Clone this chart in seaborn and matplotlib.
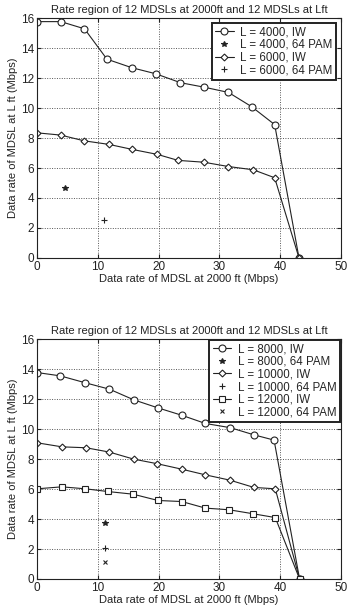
import matplotlib
matplotlib.use("Agg")
from matplotlib import pyplot as plt
import seaborn as sns
import pandas as pd
import numpy as np

# top panel: L = 4000 / 6000
x4000 = [0, 3.9, 7.8, 11.5, 15.6, 19.5, 23.6, 27.5, 31.5, 35.3, 39.1, 43.1]
y4000 = [15.78, 15.78, 15.3, 13.27, 12.7, 12.3, 11.7, 11.4, 11.05, 10.1, 8.9, 0]
x6000 = [0, 3.9, 7.7, 11.8, 15.7, 19.8, 23.2, 27.4, 31.5, 35.6, 39.1, 43.1]
y6000 = [8.35, 8.2, 7.82, 7.58, 7.24, 6.91, 6.51, 6.39, 6.1, 5.88, 5.35, 0]
pam4000 = (4.66, 4.68)
pam6000 = (11.07, 2.5)

# bottom panel: L = 8000 / 10000 / 12000
x8000 = [0, 3.8, 7.9, 11.9, 15.9, 19.9, 23.8, 27.7, 31.8, 35.7, 39.0, 43.2]
y8000 = [13.78, 13.56, 13.1, 12.67, 11.96, 11.42, 10.93, 10.38, 10.1, 9.62, 9.27, 0]
x10000 = [0, 4.1, 8.05, 11.9, 15.9, 19.7, 23.8, 27.7, 31.7, 35.7, 39.2, 43.2]
y10000 = [9.09, 8.82, 8.76, 8.47, 8.0, 7.7, 7.33, 6.95, 6.6, 6.11, 6.02, 0]
x12000 = [0, 4.05, 7.95, 11.6, 15.8, 19.9, 23.8, 27.7, 31.6, 35.6, 39.2, 43.2]
y12000 = [6.02, 6.15, 6.02, 5.84, 5.66, 5.24, 5.17, 4.73, 4.62, 4.35, 4.1, 0]
pam8000 = (11.2, 3.71)
pam10000 = (11.2, 2.1)
pam12000 = (11.2, 1.13)

title = "Rate region of 12 MDSLs at 2000ft and 12 MDSLs at Lft"
xlab = "Data rate of MDSL at 2000 ft (Mbps)"
ylab = "Data rate of MDSL at L ft (Mbps)"

sns.set_style("ticks")
plt.rcParams['font.family'] = ['Liberation Sans', 'DejaVu Sans']
plt.rcParams['font.size'] = 8
ink = '#222222'

fig = plt.figure(figsize=(3.5, 6.11), dpi=100)
ax1 = fig.add_axes([0.106, 0.578, 0.868, 0.392])
ax2 = fig.add_axes([0.106, 0.0524, 0.868, 0.3923])


def iw(ax, xs, ys, mk, ms, lab):
    d = pd.DataFrame({"x": xs, "y": ys})
    sns.lineplot(data=d, x="x", y="y", ax=ax, sort=False, color=ink, lw=0.8,
                 marker=mk, markersize=ms, markerfacecolor='white',
                 markeredgecolor=ink, markeredgewidth=0.8, label=lab)


def pam(ax, pt, mk, ms, lab):
    ax.plot([pt[0]], [pt[1]], linestyle='none', marker=mk, markersize=ms,
            color=ink, markeredgewidth=0.8, label=lab)


iw(ax1, x4000, y4000, 'o', 5, "L = 4000, IW")
pam(ax1, pam4000, '*', 4, "L = 4000, 64 PAM")
iw(ax1, x6000, y6000, 'D', 3.5, "L = 6000, IW")
pam(ax1, pam6000, '+', 5, "L = 6000, 64 PAM")

iw(ax2, x8000, y8000, 'o', 5, "L = 8000, IW")
pam(ax2, pam8000, '*', 4, "L = 8000, 64 PAM")
iw(ax2, x10000, y10000, 'D', 3.5, "L = 10000, IW")
pam(ax2, pam10000, '+', 5, "L = 10000, 64 PAM")
iw(ax2, x12000, y12000, 's', 4.5, "L = 12000, IW")
pam(ax2, pam12000, 'x', 3.5, "L = 12000, 64 PAM")

for ax, pad in [(ax1, 0.4), (ax2, 0.05)]:
    ax.set_xlim(0, 50)
    ax.set_ylim(0, 16)
    ax.set_xticks(np.arange(0, 51, 10))
    ax.set_yticks(np.arange(0, 17, 2))
    ax.grid(True, linestyle=(0, (1, 1.5)), color='#555555', lw=0.7)
    ax.tick_params(direction='in', length=3, top=True, right=True,
                   labelsize=8.5, colors=ink, pad=2)
    for s in ax.spines.values():
        s.set_color(ink)
        s.set_linewidth(0.8)
    ax.set_title(title, fontsize=8, color=ink, pad=4)
    ax.set_xlabel(xlab, fontsize=8, color=ink, labelpad=1)
    ax.set_ylabel(ylab, fontsize=8, color=ink, labelpad=2)
    leg = ax.legend(loc='upper right', fontsize=8.3, fancybox=False,
                    framealpha=1, edgecolor=ink, borderaxespad=pad,
                    handlelength=1.6, handletextpad=0.6, labelspacing=0.05,
                    borderpad=0.3)
    leg.get_frame().set_linewidth(1.4)

plt.savefig("out.png", dpi=100)
